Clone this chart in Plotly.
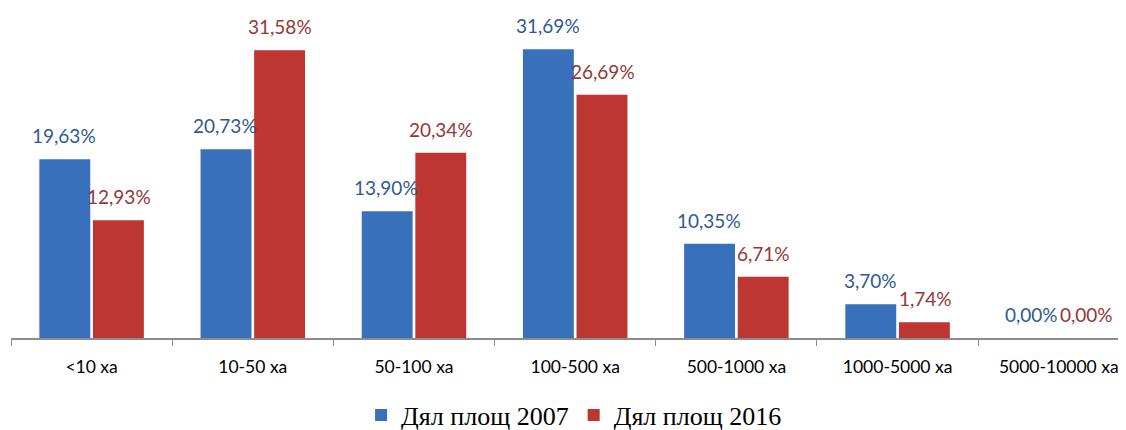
import plotly.graph_objects as go

categories = ["<10 ха", "10-50 ха", "50-100 ха", "100-500 ха", "500-1000 ха", "1000-5000 ха", "5000-10000 ха"]
share_2007 = [19.63, 20.73, 13.90, 31.69, 10.35, 3.70, 0.00]
share_2016 = [12.93, 31.58, 20.34, 26.69, 6.71, 1.74, 0.00]
series_names = ["Дял площ 2007", "Дял площ 2016"]

def fmt(v):
    return f"{v:.2f}".replace(".", ",") + "%"

fig = go.Figure()
fig.add_trace(go.Bar(
    x=categories, y=share_2007, name=series_names[0],
    marker=dict(color="#3870BC", line=dict(width=0)),
))
fig.add_trace(go.Bar(
    x=categories, y=share_2016, name=series_names[1],
    marker=dict(color="#BE3631", line=dict(width=0)),
))

# value labels above each bar
for vals, shift, col in [(share_2007, -27.5, "#2F5A8F"), (share_2016, 27.5, "#953735")]:
    for c, v in zip(categories, vals):
        fig.add_annotation(
            x=c, y=v, xref="x", yref="y", text=fmt(v), showarrow=False,
            xanchor="center", yanchor="bottom", xshift=shift, yshift=10,
            font=dict(color=col, size=19, family="Lato"),
        )

# page body has an 8px default margin; figure sized to fill the rest of the window
fig.update_layout(
    width=1118, height=422,
    margin=dict(l=3, r=0, t=2, b=92, autoexpand=False),
    paper_bgcolor="white", plot_bgcolor="white",
    barmode="group", bargap=0.335, bargroupgap=0.05,
    showlegend=True,
    legend=dict(orientation="h", x=0.505, xanchor="center", y=-0.235, yanchor="middle",
                font=dict(family="Liberation Serif", size=26, color="black"),
                itemwidth=30, tracegroupgap=0),
)
fig.update_xaxes(
    type="category", range=[-0.5, 6.417], automargin=False,
    showline=True, linecolor="#8C8C8C", linewidth=1.5,
    ticks="outside", tickson="boundaries", ticklen=6, tickcolor="#8C8C8C",
    tickfont=dict(family="Lato", size=17.5, color="black"),
    ticklabelstandoff=12,
    showgrid=False,
)
fig.update_yaxes(range=[0, 36], visible=False, showgrid=False)

fig.write_html("out.html")
